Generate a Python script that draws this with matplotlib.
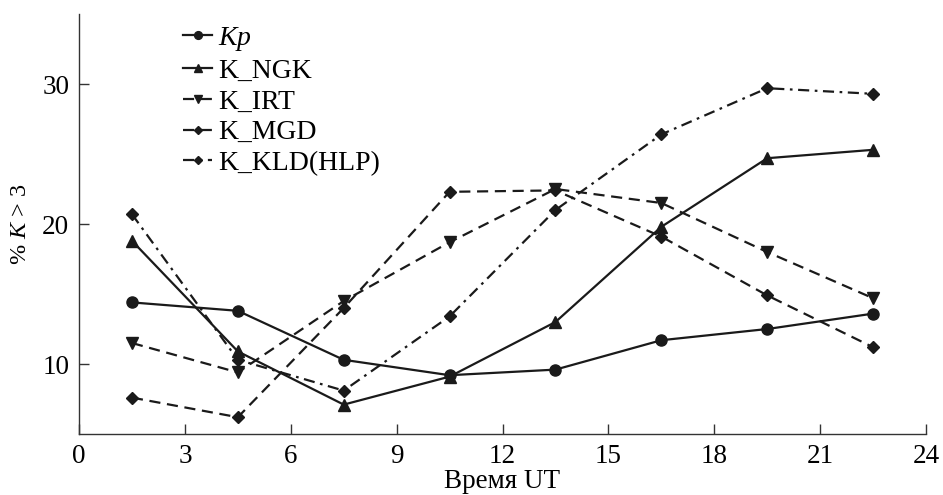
import numpy as np
import matplotlib.pyplot as plt

plt.rcParams['font.family'] = ['Liberation Serif', 'DejaVu Serif']
plt.rcParams['mathtext.fontset'] = 'custom'
plt.rcParams['mathtext.rm'] = 'Liberation Serif'
plt.rcParams['mathtext.it'] = 'Liberation Serif:italic'

# hours UT (bin centres)
hours = [1.5, 4.5, 7.5, 10.5, 13.5, 16.5, 19.5, 22.5]

kp = [14.4, 13.8, 10.3, 9.2, 9.6, 11.7, 12.5, 13.6]
k_ngk = [18.8, 10.9, 7.1, 9.1, 13.0, 19.8, 24.7, 25.3]
k_irt = [11.5, 9.4, 14.5, 18.7, 22.5, 21.5, 18.0, 14.7]
k_mgd = [7.6, 6.2, 14.0, 22.3, 22.4, 19.1, 14.9, 11.2]
k_kld = [20.7, 10.3, 8.1, 13.4, 21.0, 26.4, 29.7, 29.3]

labels = [r'$Kp$', 'K_NGK', 'K_IRT', 'K_MGD', 'K_KLD(HLP)']

c = '#1a1a1a'
fig = plt.figure(figsize=(9.43, 4.95), dpi=100)
ax = fig.add_axes([0.0838, 0.1232, 0.8982, 0.8485])

ax.plot(hours, kp, color=c, lw=1.6, marker='o', ms=8, label=labels[0])
ax.plot(hours, k_ngk, color=c, lw=1.6, marker='^', ms=8, label=labels[1])
ax.plot(hours, k_irt, color=c, lw=1.6, marker='v', ms=8, ls=(0, (5, 3)), label=labels[2])
ax.plot(hours, k_mgd, color=c, lw=1.6, marker='D', ms=6, ls=(0, (5, 3)), label=labels[3])
ax.plot(hours, k_kld, color=c, lw=1.6, marker='D', ms=6, ls=(0, (5, 2.5, 1.2, 2.5)), label=labels[4])

ax.set_xlim(0, 24)
ax.set_ylim(5, 35)
ax.set_xticks(range(0, 25, 3))
ax.set_yticks([10, 20, 30])
ax.spines['top'].set_visible(False)
ax.spines['right'].set_visible(False)
for s in ('left', 'bottom'):
    ax.spines[s].set_color('#333333')
    ax.spines[s].set_linewidth(1.0)
ax.tick_params(direction='in', length=7, width=1, labelsize=19.5, color='#333333')
ax.tick_params(axis='y', pad=7)
ax.tick_params(axis='x', pad=7)

ax.set_xlabel('Время UT', fontsize=19.5, labelpad=0)
ax.set_ylabel(r'% $K$ > 3', fontsize=17.5, labelpad=8)

leg = ax.legend(loc='upper left', bbox_to_anchor=(0.11, 1.0), frameon=False, fontsize=20,
                handlelength=1.05, handletextpad=0.2, labelspacing=0.19, borderaxespad=0.0,
                markerscale=0.7)

fig.savefig('out.png', dpi=100)
